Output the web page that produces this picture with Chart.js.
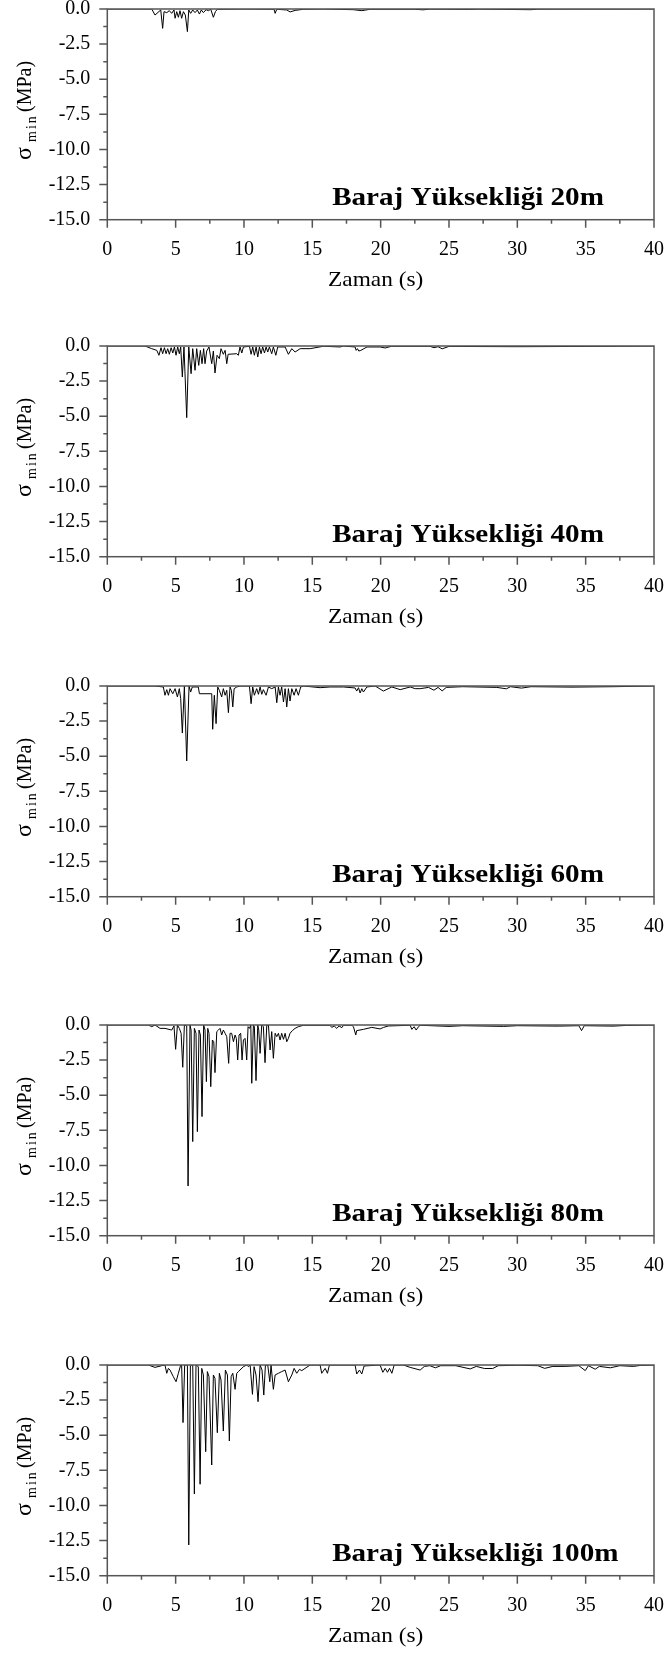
<!DOCTYPE html>
<html>
<head>
<meta charset="utf-8">
<script src="https://cdn.jsdelivr.net/npm/chart.js@4.4.0/dist/chart.umd.min.js"></script>
<style>
  body { margin: 0; background: #fff; overflow: hidden; }
  .panel { position: absolute; left: 0; width: 667px; height: 300px; }
</style>
</head>
<body>
<div class="panel" style="top:-0.7px"><canvas id="c20" width="667" height="300"></canvas></div>
<div class="panel" style="top:335.7px"><canvas id="c40" width="667" height="300"></canvas></div>
<div class="panel" style="top:675.7px"><canvas id="c60" width="667" height="300"></canvas></div>
<div class="panel" style="top:1015px"><canvas id="c80" width="667" height="300"></canvas></div>
<div class="panel" style="top:1355px"><canvas id="c100" width="667" height="300"></canvas></div>
<script>
// time (s), sigma_min (MPa)
const h20 = [[0,0],[3.25,0],[3.49,-0.43],[3.91,-0.07],[4.05,-1.38],[4.15,-0.19],[4.35,-0.26],[4.54,-0.12],[4.71,-0.31],[4.88,-0.07],[4.96,-0.66],[5.08,-0.19],[5.2,-0.59],[5.32,-0.12],[5.44,-0.66],[5.57,-0.19],[5.71,-0.43],[5.86,-1.61],[5.96,-0.07],[6.1,-0.31],[6.25,-0.07],[6.42,-0.26],[6.59,-0.07],[6.74,-0.36],[6.88,-0.07],[7.03,-0.26],[7.23,-0.05],[7.4,-0.12],[7.57,-0.02],[7.76,-0.59],[7.91,-0.19],[8.05,-0.02],[10,0],[12.2,-0.02],[12.28,-0.31],[12.4,-0.02],[13.13,-0.07],[13.38,-0.21],[13.74,-0.1],[14.35,-0.02],[15.8,0],[18.0,-0.05],[18.62,-0.12],[19.23,-0.02],[22.5,-0.02],[23.1,-0.06],[23.6,-0.01],[26.5,-0.03],[27.2,-0.01],[31,-0.05],[31.5,-0.01],[40,0]];

const h40 = [[0,0],[2.76,0],[3.25,-0.19],[3.62,-0.31],[3.78,-0.66],[3.93,-0.12],[4.05,-0.55],[4.18,-0.12],[4.3,-0.55],[4.42,-0.19],[4.54,-0.59],[4.67,-0.12],[4.79,-0.5],[4.91,-0.07],[5.03,-0.66],[5.15,-0.07],[5.27,-0.55],[5.37,-0.07],[5.49,-2.21],[5.61,-0.07],[5.81,-5.1],[5.96,-0.07],[6.13,-1.97],[6.25,-0.19],[6.42,-1.73],[6.54,-0.19],[6.69,-1.38],[6.81,-0.31],[6.93,-1.26],[7.05,-0.19],[7.15,-1.26],[7.27,-0.36],[7.44,-0.07],[7.64,-1.26],[7.76,-0.36],[7.88,-1.92],[8.03,-0.66],[8.2,-0.9],[8.32,-0.19],[8.49,-0.59],[8.62,-0.31],[8.74,-1.26],[8.84,-0.59],[9.47,-0.55],[9.59,-0.66],[9.71,-0.07],[9.84,-0.5],[9.96,-0.07],[10.4,-0.02],[10.52,-0.59],[10.64,-0.07],[10.76,-0.66],[10.89,-0.07],[11.01,-0.78],[11.13,-0.07],[11.25,-0.55],[11.37,-0.07],[11.5,-0.5],[11.62,-0.07],[11.74,-0.43],[11.86,-0.07],[12.03,-0.55],[12.15,-0.07],[12.33,-0.66],[12.47,-0.07],[13.01,-0.07],[13.25,-0.59],[13.5,-0.19],[13.74,-0.43],[14.11,-0.19],[14.84,-0.19],[15.81,-0.02],[17.04,-0.07],[17.28,0],[18.13,-0.07],[18.21,-0.31],[18.3,-0.19],[18.4,-0.36],[18.55,-0.31],[19.0,-0.07],[19.96,-0.07],[20.33,-0.14],[20.8,-0.02],[23.6,-0.02],[23.9,-0.12],[24.2,-0.05],[24.5,-0.2],[25,-0.03],[30,-0.05],[35,-0.03],[40,0]];

const h60 = [[0,0],[3.49,0],[4.1,-0.07],[4.22,-0.66],[4.35,-0.26],[4.47,-0.66],[4.59,-0.19],[4.79,-0.55],[4.96,-0.19],[5.13,-0.78],[5.27,-0.19],[5.37,-0.9],[5.49,-3.35],[5.64,0],[5.81,-5.34],[5.98,0],[6.1,-0.43],[6.22,-0.07],[6.66,-0.07],[6.74,-0.55],[7.64,-0.55],[7.71,-3.08],[7.83,-0.66],[7.96,-2.68],[8.08,-0.07],[8.2,-0.31],[8.37,-0.78],[8.49,-0.19],[8.62,-0.66],[8.74,-0.31],[8.86,-1.9],[8.98,-0.07],[9.08,-0.31],[9.18,-1.49],[9.28,-0.19],[9.47,-0.07],[9.71,0],[10.4,0],[10.52,-1.26],[10.64,-0.07],[10.76,-0.66],[10.93,-0.19],[11.06,-0.59],[11.18,-0.07],[11.3,-0.59],[11.42,-0.26],[11.62,-0.66],[11.79,-0.07],[12.03,-0.19],[12.28,-0.07],[12.4,-1.19],[12.52,-0.07],[12.64,-0.66],[12.76,-0.07],[12.89,-1.14],[13.01,-0.19],[13.13,-1.49],[13.25,-0.19],[13.37,-1.07],[13.5,-0.19],[13.67,-0.66],[13.81,-0.19],[13.98,-0.66],[14.15,-0.07],[14.35,0],[15.57,-0.12],[16.3,-0.07],[17.28,-0.07],[18.13,-0.14],[18.25,-0.36],[18.38,-0.12],[18.5,-0.5],[18.62,-0.19],[18.74,-0.43],[18.99,-0.07],[19.6,0],[20.2,-0.36],[20.82,-0.07],[21.43,-0.26],[22.16,-0.07],[22.53,-0.19],[22.89,-0.19],[23.5,-0.1],[23.9,-0.3],[24.2,-0.1],[24.5,-0.35],[24.8,-0.1],[26,-0.05],[28.5,-0.1],[29.2,-0.2],[29.5,-0.05],[30.3,-0.15],[31,-0.05],[34,-0.08],[37,-0.05],[40,0]];

const h80 = [[0,0],[3.0,0],[3.25,-0.12],[3.49,0],[3.86,-0.24],[4.22,-0.24],[4.71,-0.36],[4.88,-0.07],[5.0,-1.73],[5.13,0],[5.27,-0.24],[5.4,-0.59],[5.52,-3.01],[5.64,0],[5.81,-0.07],[5.91,-11.46],[6.05,0],[6.13,-0.36],[6.25,-8.3],[6.37,-0.24],[6.49,-0.59],[6.59,-7.59],[6.71,-0.36],[6.81,-0.71],[6.93,-6.52],[7.05,0],[7.15,-0.36],[7.25,-4.03],[7.35,-0.24],[7.44,-0.59],[7.57,-4.39],[7.69,-1.07],[7.79,-1.19],[7.88,-3.39],[8.01,-0.47],[8.13,-0.36],[8.25,-0.24],[8.37,-0.71],[8.49,-0.36],[8.62,-0.59],[8.74,-0.83],[8.88,-2.73],[8.98,-0.59],[9.1,-0.59],[9.23,-1.19],[9.35,-0.71],[9.44,-0.95],[9.54,-2.49],[9.64,-0.71],[9.76,-0.59],[9.86,-2.49],[9.96,-1.07],[10.08,-0.95],[10.2,-2.49],[10.3,-0.12],[10.4,-0.24],[10.5,0],[10.57,-4.15],[10.69,0],[10.76,-0.12],[10.88,-3.96],[11.01,0],[11.08,-0.36],[11.18,-2.02],[11.3,0],[11.42,-0.12],[11.54,-2.68],[11.67,0],[11.79,0],[11.91,-1.78],[12.03,-0.47],[12.15,-2.37],[12.28,-0.59],[12.4,-0.83],[12.52,-0.59],[12.64,-1.07],[12.76,-0.59],[12.89,-1.02],[13.01,-0.59],[13.13,-1.19],[13.25,-0.95],[13.37,-0.59],[13.54,-0.4],[13.74,-0.24],[13.98,-0.12],[14.35,-0.02],[16.3,-0.02],[16.42,-0.17],[16.6,-0.07],[16.79,-0.24],[16.96,-0.07],[17.16,-0.19],[17.28,-0.02],[17.89,-0.02],[18.01,-0.12],[18.18,-0.71],[18.25,-0.4],[18.74,-0.31],[19.35,-0.17],[19.96,-0.28],[20.21,-0.17],[20.57,-0.07],[22.16,-0.02],[22.28,-0.31],[22.45,-0.12],[22.6,-0.36],[22.77,-0.12],[22.89,-0.02],[25,-0.1],[26,-0.05],[29,-0.1],[30,-0.05],[33,-0.08],[34.5,-0.05],[34.7,-0.4],[34.9,-0.05],[37,-0.08],[38,-0.03],[40,0]];

const h100 = [[0,0],[3.0,0],[3.49,-0.17],[3.98,-0.05],[4.22,0],[4.35,-0.59],[4.47,-0.24],[4.59,-0.36],[4.83,-0.83],[5.03,-1.19],[5.2,-0.59],[5.37,0],[5.44,0],[5.54,-4.1],[5.66,0],[5.86,0],[5.96,-12.81],[6.08,0],[6.25,0],[6.37,-9.18],[6.49,0],[6.66,-0.12],[6.79,-8.49],[6.91,-0.24],[7.03,-0.71],[7.2,-6.17],[7.32,-0.47],[7.44,-0.83],[7.64,-7.12],[7.76,-0.71],[7.88,-0.95],[8.05,-4.82],[8.2,-0.59],[8.32,-1.07],[8.49,-4.7],[8.64,-0.36],[8.79,-0.71],[8.93,-5.41],[9.06,-0.83],[9.18,-0.59],[9.35,-1.73],[9.47,-0.59],[9.59,-0.47],[9.96,-0.12],[10.2,0],[10.32,-0.12],[10.45,0],[10.62,-2.09],[10.74,-0.12],[10.88,-0.71],[11.03,-2.61],[11.18,0],[11.32,-0.36],[11.45,-2.14],[11.57,0],[11.74,0],[11.89,-1.19],[11.98,0],[12.15,-1.73],[12.28,-0.71],[12.52,-0.59],[12.76,-0.47],[13.01,-0.36],[13.25,-1.19],[13.5,-0.71],[13.67,-0.24],[13.86,-0.59],[14.06,-0.31],[14.23,-0.4],[14.47,-0.24],[14.84,0],[15.57,0],[15.69,-0.59],[15.94,-0.24],[16.11,-0.59],[16.25,0],[18.13,0],[18.25,-0.64],[18.45,-0.36],[18.62,-0.64],[18.79,-0.07],[19.96,0],[20.16,-0.52],[20.33,-0.24],[20.5,-0.52],[20.65,-0.24],[20.82,-0.59],[20.99,0],[21.67,0],[22.16,-0.17],[22.89,-0.36],[23.2,-0.1],[23.6,-0.05],[24.0,-0.2],[24.4,-0.05],[25.5,-0.05],[26.55,-0.28],[27.0,-0.1],[27.6,-0.25],[28.2,-0.25],[28.6,-0.05],[30,-0.02],[31.5,-0.05],[32.0,-0.24],[32.6,-0.1],[33.5,-0.1],[34.5,-0.05],[34.97,-0.4],[35.2,-0.05],[35.7,-0.3],[36.0,-0.1],[36.8,-0.2],[37.5,-0.05],[38.5,-0.1],[39,-0.03],[40,0]];

const heights = ["20m", "40m", "60m", "80m", "100m"];
const series = [h20, h40, h60, h80, h100];

const serif = '"Liberation Serif", "Times New Roman", serif';
const axisColor = "#555";

const panelDecor = {
  id: "panelDecor",
  afterDraw(chart, args, opts) {
    const ctx = chart.ctx;
    const a = chart.chartArea;
    const xs = chart.scales.x, ys = chart.scales.y;
    ctx.save();
    ctx.strokeStyle = axisColor;
    ctx.lineWidth = 1.5;
    ctx.strokeRect(a.left, a.top, a.right - a.left, a.bottom - a.top);

    // x ticks, minor every 2.5
    ctx.beginPath();
    for (let v = 0; v <= 40; v += 2.5) {
      const px = xs.getPixelForValue(v);
      const len = v % 5 === 0 ? 8 : 4;
      ctx.moveTo(px, a.bottom);
      ctx.lineTo(px, a.bottom + len);
    }
    // y ticks, minor every 1.25
    for (let v = 0; v >= -15; v -= 1.25) {
      const py = ys.getPixelForValue(v);
      const len = Math.abs(v % 2.5) < 1e-9 ? 8 : 4;
      ctx.moveTo(a.left, py);
      ctx.lineTo(a.left - len, py);
    }
    ctx.stroke();

    ctx.fillStyle = "#000";
    // x axis title
    ctx.font = "22px " + serif;
    ctx.textAlign = "center";
    ctx.textBaseline = "alphabetic";
    ctx.save();
    ctx.translate((a.left + a.right) / 2 - 5, a.bottom + 66.7);
    ctx.scale(1.06, 1);
    ctx.fillText("Zaman (s)", 0, 0);
    ctx.restore();

    // y axis title, rotated
    ctx.save();
    ctx.translate(31, a.top + 151);
    ctx.rotate(-Math.PI / 2);
    ctx.textAlign = "left";
    ctx.font = "24px " + serif;
    ctx.fillText("σ", 0, 0);
    ctx.font = "14px " + serif;
    ctx.letterSpacing = "2px";
    ctx.fillText("min", 18, 5);
    ctx.letterSpacing = "0px";
    ctx.font = "20px " + serif;
    ctx.fillText("(MPa)", 48, 0);
    ctx.restore();

    // panel label
    ctx.save();
    ctx.font = "bold 26px " + serif;
    ctx.textAlign = "left";
    ctx.translate(xs.getPixelForValue(16.45), ys.getPixelForValue(-13.93));
    ctx.scale(1.12, 1);
    ctx.fillText(opts.label, 0, 0);
    ctx.restore();
    ctx.restore();
  }
};

function makePanel(id, data, height) {
  return new Chart(document.getElementById(id), {
    type: "line",
    data: {
      datasets: [{
        data: data.map(p => ({ x: p[0], y: p[1] })),
        borderColor: "#000",
        borderWidth: 1,
        pointRadius: 0,
        tension: 0,
        fill: false
      }]
    },
    options: {
      responsive: false,
      animation: false,
      layout: { padding: { top: 10, right: 13, left: 0, bottom: 0 } },
      plugins: {
        legend: { display: false },
        tooltip: { enabled: false },
        panelDecor: { label: "Baraj Yüksekliği " + height }
      },
      scales: {
        x: {
          type: "linear",
          min: 0,
          max: 40,
          grid: { display: false, drawTicks: false },
          border: { display: false },
          ticks: {
            stepSize: 5,
            padding: 18,
            maxRotation: 0,
            autoSkip: false,
            color: "#000",
            font: { family: serif, size: 20 },
            callback: v => String(v)
          },
          afterFit: s => { s.height = 79.3; s.paddingLeft = 0; s.paddingRight = 0; }
        },
        y: {
          min: -15,
          max: 0,
          grid: { display: false, drawTicks: false },
          border: { display: false },
          ticks: {
            stepSize: 2.5,
            padding: 17,
            color: "#000",
            font: { family: serif, size: 20 },
            callback: v => Number(v).toFixed(1)
          },
          afterFit: s => { s.width = 107.3; s.paddingTop = 0; s.paddingBottom = 0; }
        }
      }
    },
    plugins: [panelDecor]
  });
}

heights.forEach((h, i) => makePanel("c" + h.replace("m", ""), series[i], h));
</script>
</body>
</html>
